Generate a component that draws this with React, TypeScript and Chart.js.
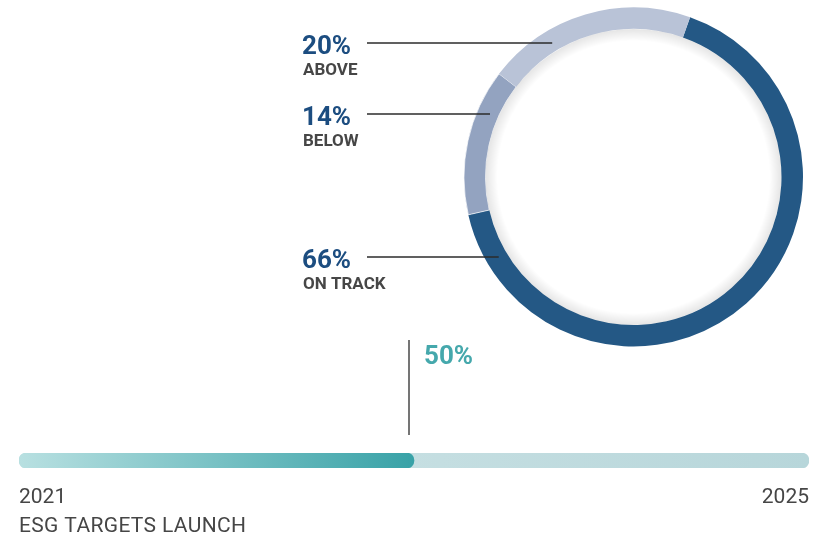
import React, { useEffect, useRef } from "react";
import { Chart, registerables } from "chart.js";
Chart.register(...registerables);

// ---- data ----
const statusLabels = ["ON TRACK", "BELOW", "ABOVE"];
const statusValues = [66, 14, 20];
const statusColors = ["#245885", "#93a3c0", "#b9c3d7"];
const progressLabels = ["ESG targets"];
const progressValues = [50];
const progressTotals = [100];
const startYear = "2021";
const startCaption = "ESG TARGETS LAUNCH";
const endYear = "2025";

const FONT = "Roboto, 'DejaVu Sans', sans-serif";
const BLUE_TEXT = "#1c4d80";
const GREY_TEXT = "#464646";
const TEAL_TEXT = "#45a8ac";

// leader line y for each status (ON TRACK, BELOW, ABOVE)
const leaderY = [257, 114, 43];

export default function App() {
  const donutRef = useRef<HTMLCanvasElement | null>(null);
  const barRef = useRef<HTMLCanvasElement | null>(null);

  useEffect(() => {
    const donutPlugin = {
      id: "donutDecor",
      afterDatasetsDraw(chart: any) {
        const ctx = chart.ctx as CanvasRenderingContext2D;
        const meta = chart.getDatasetMeta(0);
        const arc = meta.data[0] as any;
        const { x: cx, y: cy, innerRadius, outerRadius } = arc.getProps(
          ["x", "y", "innerRadius", "outerRadius"],
          true
        );
        // inner soft shadow
        ctx.save();
        const g = ctx.createRadialGradient(cx, cy, innerRadius - 12, cx, cy, innerRadius);
        g.addColorStop(0, "rgba(0,0,0,0)");
        g.addColorStop(1, "rgba(0,0,0,0.10)");
        ctx.beginPath();
        ctx.arc(cx, cy, innerRadius, 0, Math.PI * 2);
        ctx.fillStyle = g;
        ctx.fill();
        ctx.restore();

        const rMid = (innerRadius + outerRadius) / 2 - 2;
        ctx.save();
        for (let i = 0; i < statusLabels.length; i++) {
          const y = leaderY[i];
          const dy = y - cy;
          const xEnd = cx - Math.sqrt(Math.max(rMid * rMid - dy * dy, 0));
          ctx.beginPath();
          ctx.moveTo(367, y);
          ctx.lineTo(xEnd, y);
          ctx.strokeStyle = "#2b2b2b";
          ctx.lineWidth = 1.3;
          ctx.stroke();

          ctx.textAlign = "left";
          ctx.textBaseline = "alphabetic";
          ctx.fillStyle = BLUE_TEXT;
          ctx.font = `bold 26px ${FONT}`;
          ctx.fillText(`${statusValues[i]}%`, 302, y + 10.5);
          ctx.fillStyle = GREY_TEXT;
          ctx.font = `bold 17px ${FONT}`;
          ctx.fillText(statusLabels[i], 303, y + 31.5);
        }
        ctx.restore();
      },
    };

    const donut = new Chart(donutRef.current!, {
      type: "doughnut",
      data: {
        labels: statusLabels,
        datasets: [
          {
            data: statusValues,
            backgroundColor: statusColors,
            borderWidth: [0, 1, 0],
            borderColor: "rgba(255,255,255,0.7)",
          },
        ],
      },
      options: {
        animation: false,
        responsive: false,
        rotation: 19.5,
        cutout: "87.3%",
        layout: { padding: { left: 463.5, right: 28.5, top: 7, bottom: 13 } },
        plugins: { legend: { display: false }, tooltip: { enabled: false } },
      },
      plugins: [donutPlugin],
    } as any);

    const barPlugin = {
      id: "barDecor",
      afterDatasetsDraw(chart: any) {
        const ctx = chart.ctx as CanvasRenderingContext2D;
        const xs = chart.scales.x;
        const x50 = xs.getPixelForValue(progressValues[0]);
        ctx.save();
        ctx.beginPath();
        ctx.moveTo(x50 - 5, 10);
        ctx.lineTo(x50 - 5, 105);
        ctx.strokeStyle = "#2b2b2b";
        ctx.lineWidth = 1.3;
        ctx.stroke();

        ctx.textBaseline = "alphabetic";
        ctx.textAlign = "left";
        ctx.fillStyle = TEAL_TEXT;
        ctx.font = `bold 26px ${FONT}`;
        ctx.fillText(`${progressValues[0]}%`, x50 + 10, 33.5);

        ctx.fillStyle = GREY_TEXT;
        ctx.font = `21px ${FONT}`;
        ctx.fillText(startYear, xs.left, 173);
        (ctx as any).letterSpacing = "0.35px";
        ctx.fillText(startCaption, xs.left, 202);
        (ctx as any).letterSpacing = "0px";
        ctx.textAlign = "right";
        ctx.fillText(endYear, xs.right, 173);
        ctx.restore();
      },
    };

    const bar = new Chart(barRef.current!, {
      type: "bar",
      data: {
        labels: progressLabels,
        datasets: [
          {
            data: progressValues,
            order: 0,
            grouped: false,
            borderRadius: 8,
            borderSkipped: false,
            backgroundColor: (c: any) => {
              const area = c.chart.chartArea;
              if (!area) return "#3fa5aa";
              const xs = c.chart.scales.x;
              const g = c.chart.ctx.createLinearGradient(area.left, 0, xs.getPixelForValue(progressValues[0]), 0);
              g.addColorStop(0, "#b8e0e1");
              g.addColorStop(1, "#38a2a7");
              return g;
            },
          },
          {
            data: progressTotals,
            order: 1,
            grouped: false,
            borderRadius: 8,
            borderSkipped: false,
            backgroundColor: (c: any) => {
              const area = c.chart.chartArea;
              if (!area) return "#c4dde0";
              const g = c.chart.ctx.createLinearGradient(area.left, 0, area.right, 0);
              g.addColorStop(0, "#d3e7e9");
              g.addColorStop(1, "#b7d6da");
              return g;
            },
          },
        ],
      },
      options: {
        animation: false,
        responsive: false,
        indexAxis: "y",
        barPercentage: 1,
        categoryPercentage: 1,
        layout: { padding: { left: 19, right: 23, top: 123, bottom: 69 } },
        scales: {
          x: { display: false, min: 0, max: 100 },
          y: { display: false },
        },
        plugins: { legend: { display: false }, tooltip: { enabled: false } },
      },
      plugins: [barPlugin],
    } as any);

    return () => {
      donut.destroy();
      bar.destroy();
    };
  }, []);

  return (
    <div style={{ position: "fixed", left: 0, top: 0, width: 832, height: 537, background: "#fff" }}>
      <canvas ref={donutRef} width={832} height={360} style={{ position: "absolute", left: 0, top: 0 }} />
      <canvas ref={barRef} width={832} height={207} style={{ position: "absolute", left: 0, top: 330 }} />
    </div>
  );
}
